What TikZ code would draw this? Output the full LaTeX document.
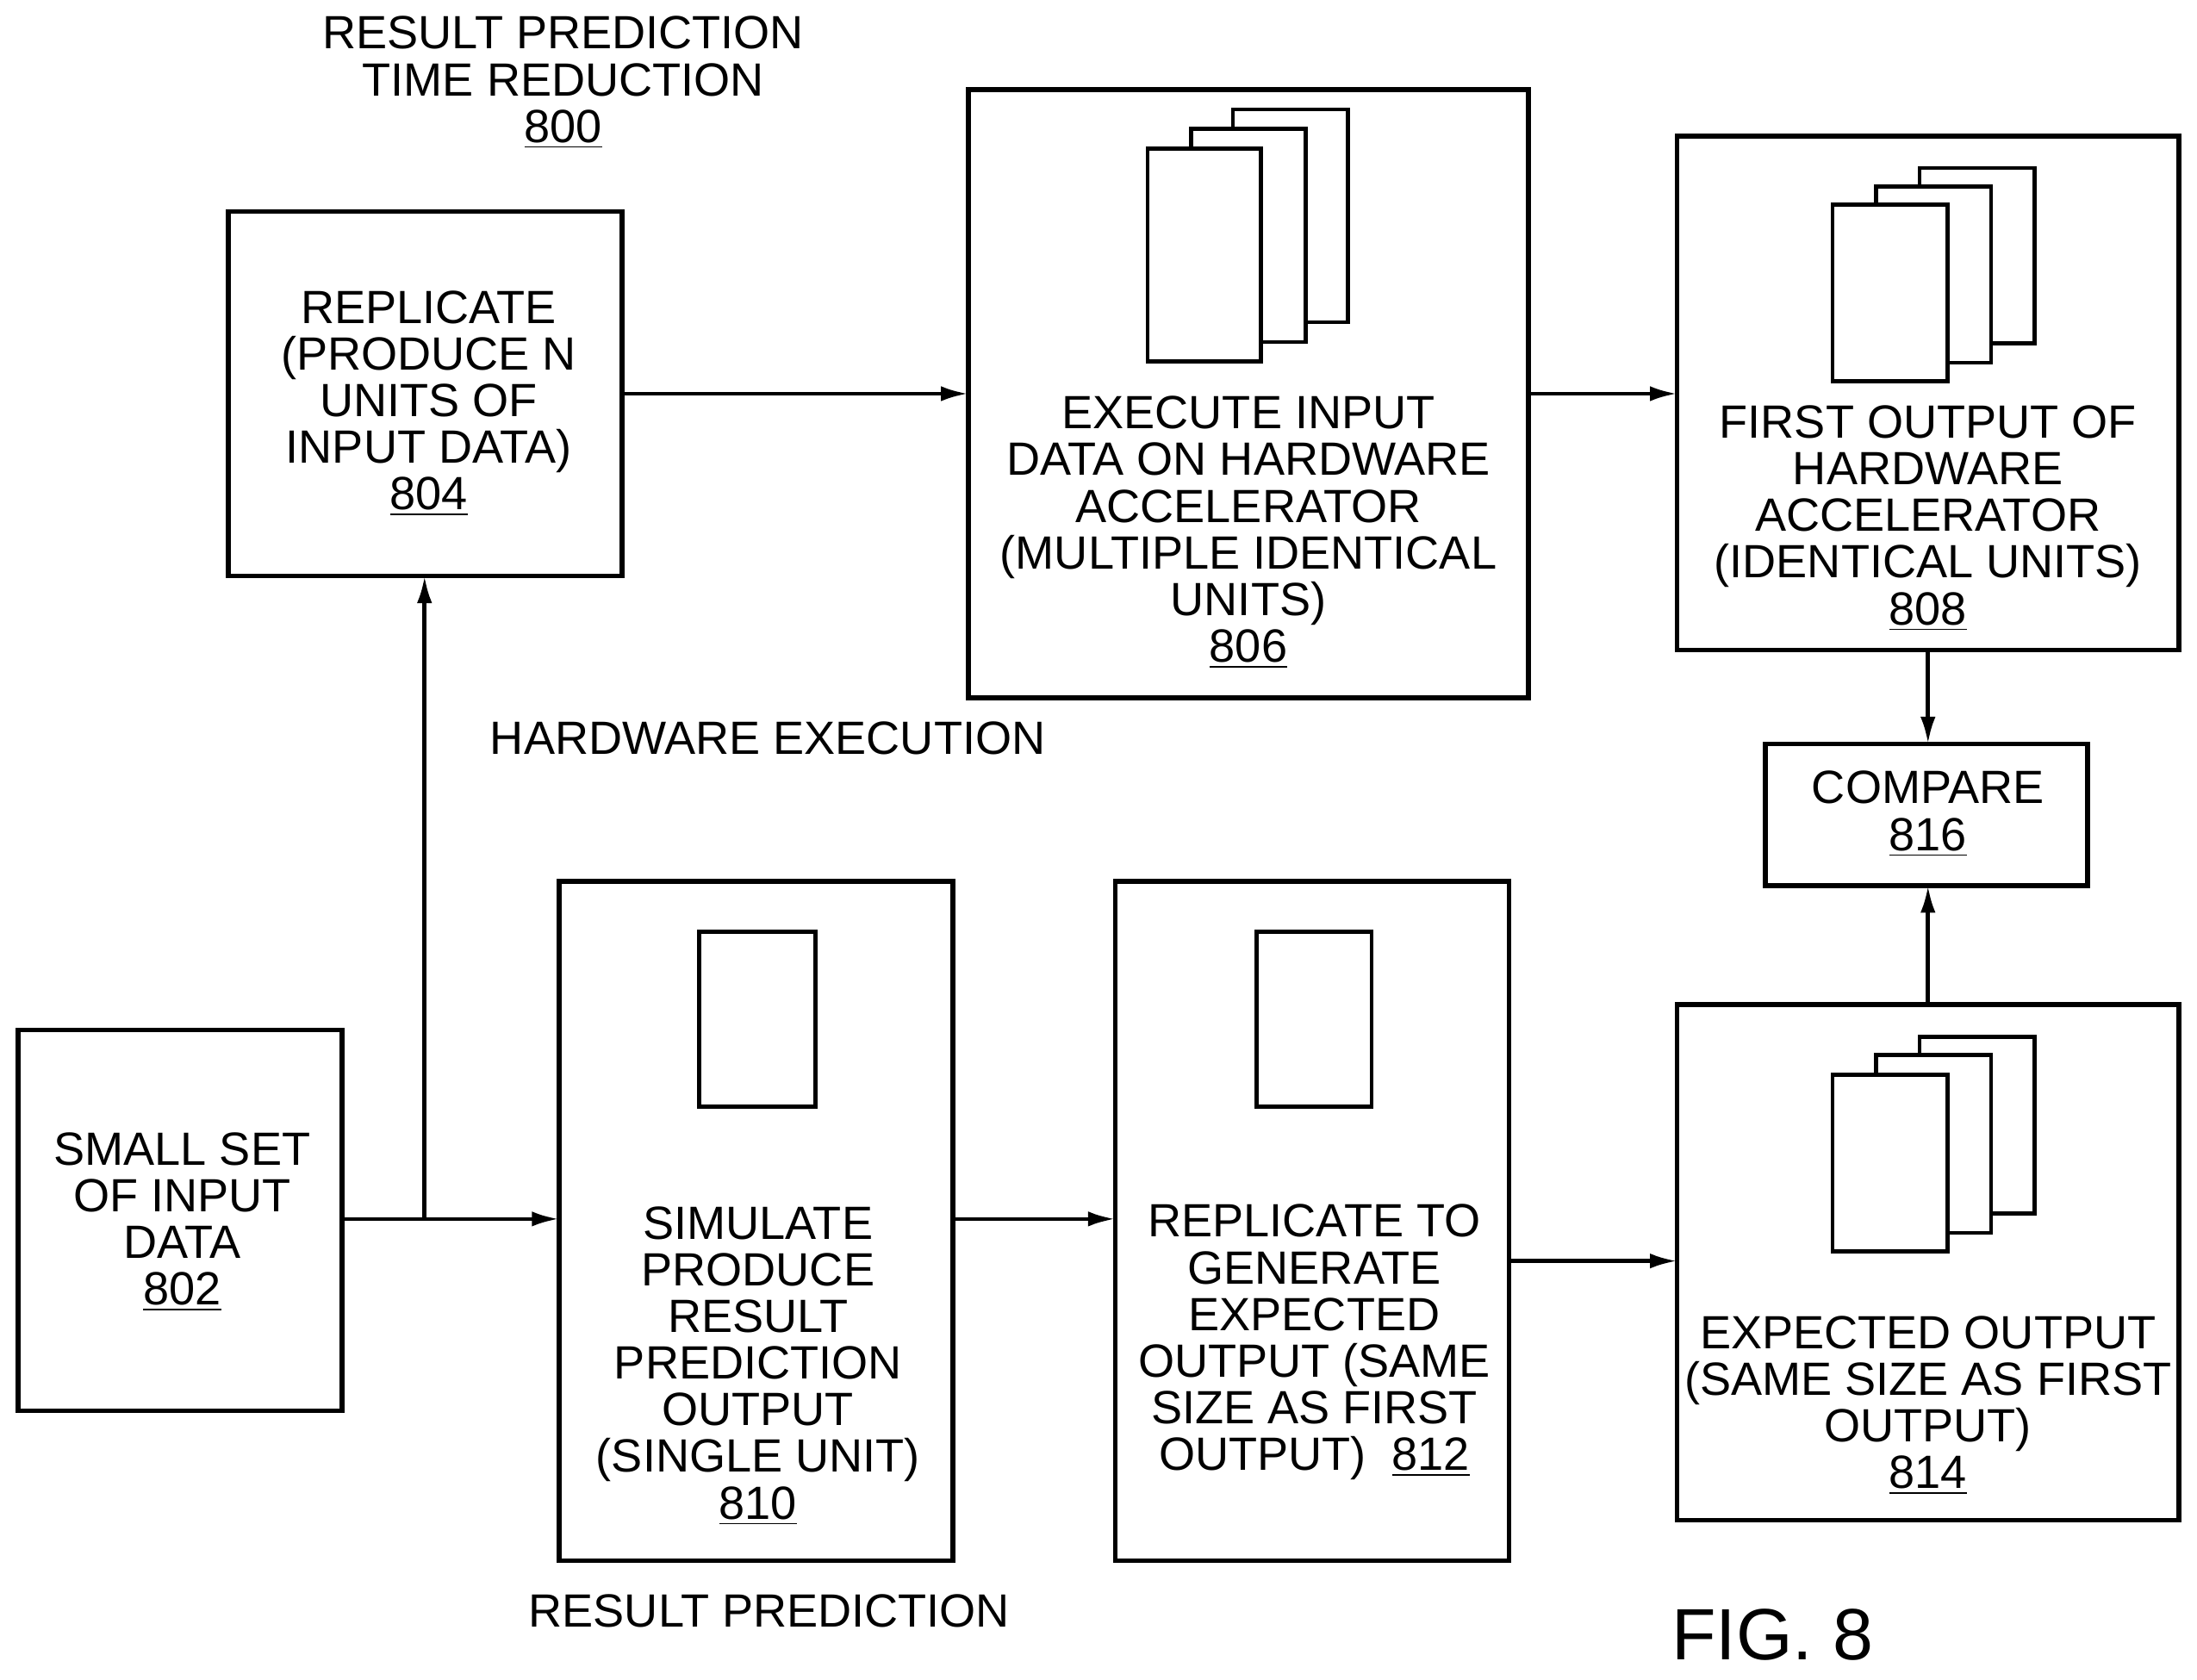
\documentclass[tikz,border=0pt]{standalone}
\usepackage{fontspec}
\setmainfont{Liberation Sans}
\begin{document}
\begin{tikzpicture}[x=0.016263cm,y=-0.016263cm,
  box/.style={draw,line width=1.6pt},
  pg/.style={draw,fill=white,line width=1.3pt},
  txt/.style={align=center,font=\fontsize{15.4}{15.4}\selectfont,inner sep=0pt},
  arr/.style={line width=1.3pt,-{Latex[length=9pt,width=5pt]}}]
\usetikzlibrary{arrows.meta}
\useasboundingbox (0,0) rectangle (1568,1199);
% boxes
\draw[box] (13,735) rectangle (244,1007);
\draw[box] (163,151) rectangle (444,411);
\draw[box] (691,64) rectangle (1091,498);
\draw[box] (1197,97) rectangle (1555,464);
\draw[box] (1260,531) rectangle (1490,632);
\draw[box] (399,629) rectangle (680,1114);
\draw[box] (796,629) rectangle (1077,1114);
\draw[box] (1197,717) rectangle (1555,1085);
% pages
\draw[pg] (880,78) rectangle (962,230);
\draw[pg] (850,92) rectangle (932,244);
\draw[pg] (819,106) rectangle (900,258);
\draw[pg] (1370,120) rectangle (1452,245);
\draw[pg] (1339,133) rectangle (1421,259);
\draw[pg] (1308,146) rectangle (1390,272);
\draw[pg] (1370,740) rectangle (1452,866);
\draw[pg] (1339,753) rectangle (1421,880);
\draw[pg] (1308,767) rectangle (1390,893);
\draw[pg] (499,665) rectangle (582,790);
\draw[pg] (897,665) rectangle (979,790);
% texts
\node[txt] (t802) at (130,872) {SMALL SET\\OF INPUT\\DATA\\\underline{802}};
\node[txt] (t804) at (306,288) {REPLICATE\\(PRODUCE N\\UNITS OF\\INPUT DATA)\\\underline{804}};
\node[txt] (t806) at (891,380) {EXECUTE INPUT\\DATA ON HARDWARE\\ACCELERATOR\\(MULTIPLE IDENTICAL\\UNITS)\\\underline{806}};
\node[txt] (t808) at (1376,370) {FIRST OUTPUT OF\\HARDWARE\\ACCELERATOR\\(IDENTICAL UNITS)\\\underline{808}};
\node[txt] (t816) at (1376,581) {COMPARE\\\underline{816}};
\node[txt] (t810) at (541,975) {SIMULATE\\PRODUCE\\RESULT\\PREDICTION\\OUTPUT\\(SINGLE UNIT)\\\underline{810}};
\node[txt] (t812) at (938,958) {REPLICATE TO\\GENERATE\\EXPECTED\\OUTPUT (SAME\\SIZE AS FIRST\\OUTPUT)\ \ \underline{812}};
\node[txt] (t814) at (1376,1003) {EXPECTED OUTPUT\\(SAME SIZE AS FIRST\\OUTPUT)\\\underline{814}};
\node[txt] (t800) at (402,59) {RESULT PREDICTION\\TIME REDUCTION\\\underline{800}};
\node[txt] (hw) at (548,527) {HARDWARE EXECUTION};
\node[txt] (rp) at (549,1150) {RESULT PREDICTION};
\node[txt,font=\fontsize{24}{24}\selectfont] (fig) at (1265,1167) {FIG. 8};
% connectors
\coordinate (j) at (303,870);
\draw[line width=1.3pt] (244,870) -- (j);
\draw[arr] (j) -- (303,411);
\draw[arr] (j) -- (399,870);
\draw[arr] (444,281) -- (691,281);
\draw[arr] (1091,281) -- (1197,281);
\draw[arr] (680,870) -- (796,870);
\draw[arr] (1077,900) -- (1197,900);
\draw[arr] (1376,464) -- (1376,531);
\draw[arr] (1376,717) -- (1376,632);
\end{tikzpicture}
\end{document}
